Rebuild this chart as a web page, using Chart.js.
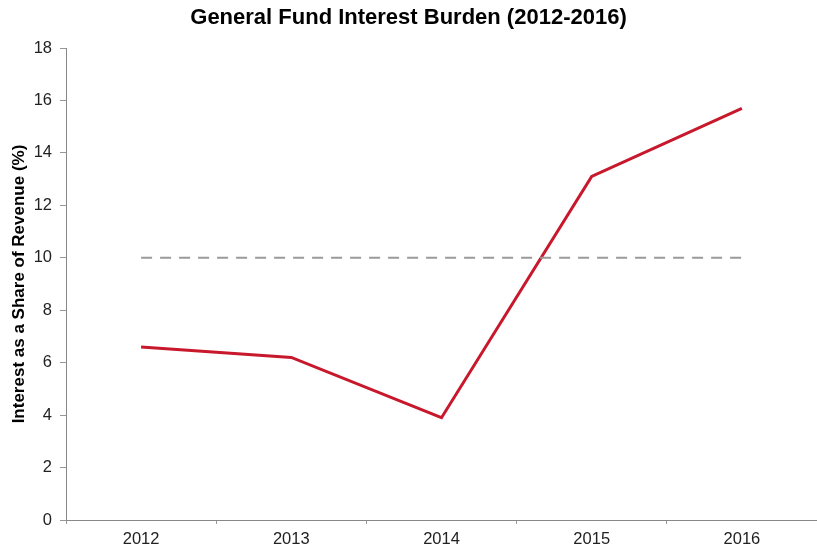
<!DOCTYPE html>
<html><head><meta charset="utf-8">
<script src="https://cdn.jsdelivr.net/npm/chart.js@4"></script>
<style>html,body{margin:0;padding:0;background:#fff}#wrap{width:817px;height:555px}</style>
</head><body><div id="wrap"><canvas id="c" width="817" height="555"></canvas></div>
<script>
const categories = ["2012", "2013", "2014", "2015", "2016"];
const interestShare = [6.6, 6.2, 3.9, 13.1, 15.7];
const threshold = [10, 10, 10, 10, 10];
const yTicks = [0, 2, 4, 6, 8, 10, 12, 14, 16, 18];

Chart.defaults.font.family = "'Liberation Sans', Arial, sans-serif";
new Chart(document.getElementById('c'), {
  type: 'line',
  data: {
    labels: categories,
    datasets: [
      { label: 'Threshold', data: threshold, borderColor: '#9a9a9a', borderWidth: 2, borderDash: [11, 8], pointRadius: 0, fill: false, tension: 0 },
      { label: 'Interest as a Share of Revenue', data: interestShare, borderColor: '#c8182c', borderWidth: 3, pointRadius: 0, fill: false, tension: 0 }
    ]
  },
  options: {
    responsive: false,
    animation: false,
    layout: { padding: { left: 0, right: 0, top: 0, bottom: 0 } },
    plugins: {
      legend: { display: false },
      tooltip: { enabled: false },
      title: { display: true, text: 'General Fund Interest Burden (2012-2016)', color: '#000', font: { size: 22, weight: 'bold' }, padding: { top: 5, bottom: 16.6 } }
    },
    scales: {
      x: {
        offset: true,
        grid: { display: true, drawOnChartArea: false, offset: true, color: '#999', tickLength: 4 },
        border: { color: '#888', width: 1 },
        ticks: { color: '#222', font: { size: 16.5 }, padding: 6 },
        afterFit: (s) => { s.height = 35; }
      },
      y: {
        min: 0, max: 18,
        afterBuildTicks: (s) => { s.ticks = yTicks.map(v => ({ value: v })); },
        grid: { display: true, drawOnChartArea: false, color: '#999', tickLength: 6 },
        border: { color: '#888', width: 1 },
        ticks: { color: '#222', font: { size: 16.5 }, padding: 8 },
        title: { display: true, text: 'Interest as a Share of Revenue (%)', color: '#000', font: { size: 17, weight: 'bold' }, padding: { top: 9, bottom: 6 } },
        afterFit: (s) => { s.width = 66; }
      }
    }
  }
});
</script></body></html>
